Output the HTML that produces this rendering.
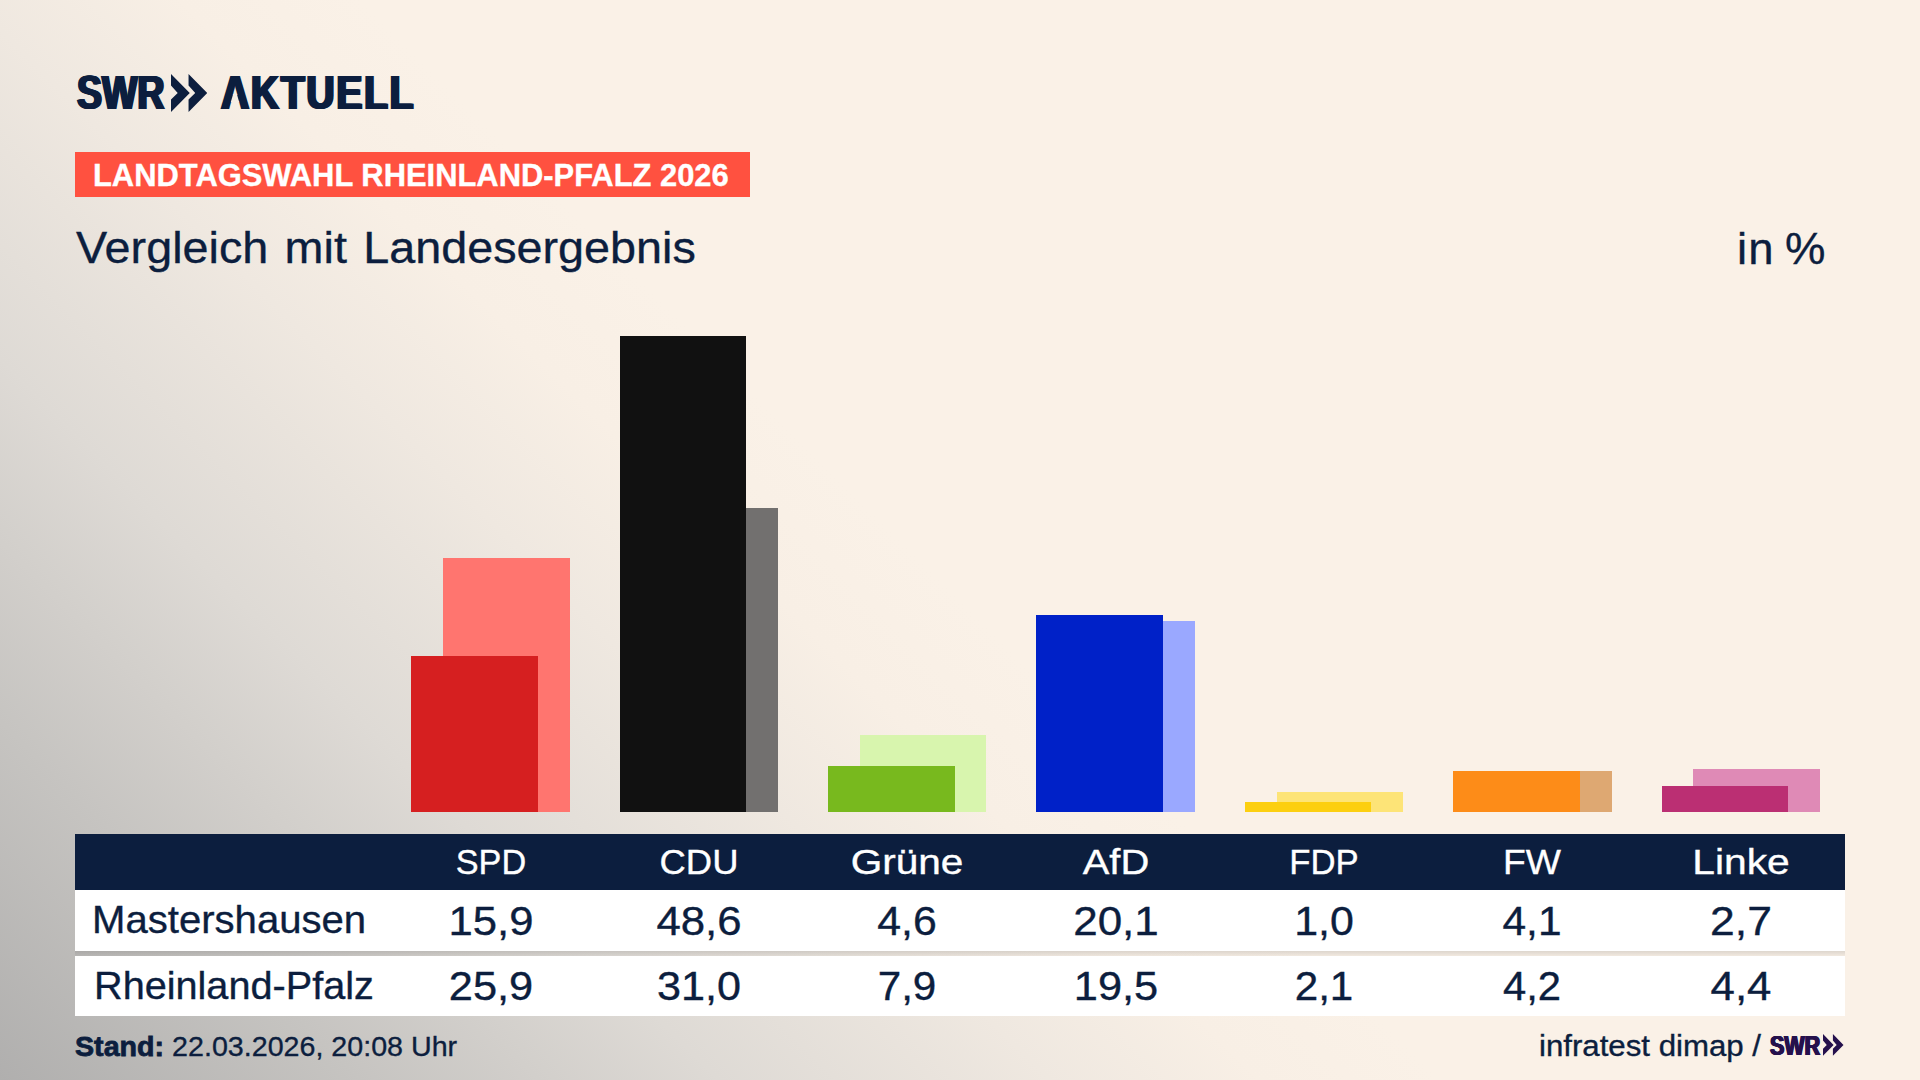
<!DOCTYPE html>
<html lang="de">
<head>
<meta charset="utf-8">
<title>SWR Aktuell – Landtagswahl Rheinland-Pfalz 2026 – Vergleich mit Landesergebnis</title>
<style>
*{margin:0;padding:0;box-sizing:border-box}
html,body{width:1920px;height:1080px;overflow:hidden}
body{position:relative;font-family:"Liberation Sans",sans-serif;color:#0c1e3e;
 --bg:linear-gradient(45deg,#b0afae 0%,#c6c4c1 12%,#dedad5 24%,#efe8e0 35%,#f8efe5 42%,#faf1e7 48%,#faf1e7 100%);background:var(--bg)}
.t{position:absolute;white-space:nowrap;line-height:1;transform-origin:0 0;display:block;font-weight:normal;-webkit-text-stroke:.35px currentColor}
.c{transform-origin:50% 0;text-align:center;width:220px}
.bar{position:absolute}
#amask{position:absolute;left:0;top:0;width:1920px;height:1080px;background:var(--bg);clip-path:polygon(233.14px 94px,236.86px 94px,239.14px 102px,230.86px 102px)}
.logo{font-weight:bold;-webkit-text-stroke:0;text-shadow:.85px 0 0 currentColor,-.85px 0 0 currentColor,1.7px 0 0 currentColor,-1.7px 0 0 currentColor}
#banner{position:absolute;left:75px;top:152px;width:675px;height:45px;background:#ff5140}
#thead{position:absolute;left:75px;top:834px;width:1770px;height:56px;background:#0c1e3e}
.row{position:absolute;left:75px;width:1770px;background:#fff}
#r1{top:890px;height:61px}
#r2{top:956px;height:60px}
#gap{position:absolute;left:75px;top:951px;width:1770px;height:5px;background:linear-gradient(rgba(80,80,80,.17),rgba(80,80,80,.05))}
</style>
</head>
<body>
<header>
 <span class="t logo" id="swr" style="left:76.5px;top:69.1px;font-size:47.8px;transform:scaleX(0.784)">SWR</span>
 <svg id="chev" style="position:absolute;left:171.2px;top:73.7px" width="36.3" height="38" viewBox="0 0 36.3 38"><path d="M0 0L18.75 19 0 38V25.5L6.7 19 0 11.5zM17.55 0L36.3 19 17.55 38V25.5L24.25 19 17.55 11.5z" fill="#0c1e3e"/></svg>
 <span class="t logo" id="akt" style="left:221px;top:69.1px;font-size:47.8px;transform:scaleX(0.815);letter-spacing:2.2px">AKTUELL</span>
 <div id="amask"></div>
 <div id="banner"></div>
 <span class="t" id="bt" style="left:93px;top:159.8px;font-size:30.5px;transform:scaleX(1.013);font-weight:bold;color:#fff">LANDTAGSWAHL RHEINLAND-PFALZ 2026</span>
 <h1 class="t" id="title" style="left:76px;top:225.6px;font-size:44.6px;transform:scaleX(1.048);word-spacing:3.2px">Vergleich mit Landesergebnis</h1>
 <span class="t" id="unit" style="left:1737px;top:226.9px;font-size:44.6px;transform:scaleX(1.02);word-spacing:-3px;letter-spacing:1px">in %</span>
</header>
<main id="chart">
 <div class="bar" style="left:443px;top:558px;width:127px;height:254px;background:#ff756f"></div>
 <div class="bar" style="left:411px;top:656px;width:127px;height:156px;background:#d61f20"></div>
 <div class="bar" style="left:652px;top:508px;width:126px;height:304px;background:#72706f"></div>
 <div class="bar" style="left:620px;top:336px;width:126px;height:476px;background:#111111"></div>
 <div class="bar" style="left:860px;top:735px;width:126px;height:77px;background:#d8f5ae"></div>
 <div class="bar" style="left:828px;top:766px;width:127px;height:46px;background:#78b91e"></div>
 <div class="bar" style="left:1068px;top:621px;width:127px;height:191px;background:#9aa8ff"></div>
 <div class="bar" style="left:1036px;top:615px;width:127px;height:197px;background:#0021c8"></div>
 <div class="bar" style="left:1277px;top:792px;width:126px;height:20px;background:#fde477"></div>
 <div class="bar" style="left:1245px;top:802px;width:126px;height:10px;background:#fccf10"></div>
 <div class="bar" style="left:1485px;top:771px;width:127px;height:41px;background:#dea872"></div>
 <div class="bar" style="left:1453px;top:771px;width:127px;height:41px;background:#fd8c18"></div>
 <div class="bar" style="left:1693px;top:769px;width:127px;height:43px;background:#df8ab6"></div>
 <div class="bar" style="left:1662px;top:786px;width:126px;height:26px;background:#bb2f73"></div>
</main>
<section id="table">
 <div id="thead"></div>
  <span class="t c" style="left:380.5px;top:844.9px;font-size:35.8px;transform:scaleX(0.957);color:#fff">SPD</span>
 <span class="t c" style="left:588.5px;top:844.9px;font-size:35.8px;transform:scaleX(1.018);color:#fff">CDU</span>
 <span class="t c" style="left:797px;top:844.9px;font-size:35.8px;transform:scaleX(1.133);color:#fff">Grüne</span>
 <span class="t c" style="left:1005.5px;top:844.9px;font-size:35.8px;transform:scaleX(1.114);color:#fff">AfD</span>
 <span class="t c" style="left:1214px;top:844.9px;font-size:35.8px;transform:scaleX(0.97);color:#fff">FDP</span>
 <span class="t c" style="left:1422px;top:844.9px;font-size:35.8px;transform:scaleX(1.04);color:#fff">FW</span>
 <span class="t c" style="left:1630.5px;top:844.9px;font-size:35.8px;transform:scaleX(1.14);color:#fff">Linke</span>
 <div class="row" id="r1"></div>
 <span class="t" id="l1" style="left:92px;top:901.4px;font-size:38.2px;transform:scaleX(1.05)">Mastershausen</span>
  <span class="t c" style="left:380.5px;top:901.5px;font-size:39.8px;transform:scaleX(1.097)">15,9</span>
 <span class="t c" style="left:588.5px;top:901.5px;font-size:39.8px;transform:scaleX(1.1)">48,6</span>
 <span class="t c" style="left:797px;top:901.5px;font-size:39.8px;transform:scaleX(1.075)">4,6</span>
 <span class="t c" style="left:1005.5px;top:901.5px;font-size:39.8px;transform:scaleX(1.105)">20,1</span>
 <span class="t c" style="left:1214px;top:901.5px;font-size:39.8px;transform:scaleX(1.078)">1,0</span>
 <span class="t c" style="left:1422px;top:901.5px;font-size:39.8px;transform:scaleX(1.066)">4,1</span>
 <span class="t c" style="left:1630.5px;top:901.5px;font-size:39.8px;transform:scaleX(1.118)">2,7</span>
 <div id="gap"></div>
 <div class="row" id="r2"></div>
 <span class="t" id="l2" style="left:93.5px;top:967.4px;font-size:38.2px;transform:scaleX(1.038)">Rheinland-Pfalz</span>
  <span class="t c" style="left:380.5px;top:967.1px;font-size:39.8px;transform:scaleX(1.09)">25,9</span>
 <span class="t c" style="left:588.5px;top:967.1px;font-size:39.8px;transform:scaleX(1.085)">31,0</span>
 <span class="t c" style="left:797px;top:967.1px;font-size:39.8px;transform:scaleX(1.06)">7,9</span>
 <span class="t c" style="left:1005.5px;top:967.1px;font-size:39.8px;transform:scaleX(1.09)">19,5</span>
 <span class="t c" style="left:1214px;top:967.1px;font-size:39.8px;transform:scaleX(1.06)">2,1</span>
 <span class="t c" style="left:1422px;top:967.1px;font-size:39.8px;transform:scaleX(1.05)">4,2</span>
 <span class="t c" style="left:1630.5px;top:967.1px;font-size:39.8px;transform:scaleX(1.1)">4,4</span>
</section>
<footer>
 <span class="t" id="stand" style="left:75px;top:1032.3px;font-size:28.5px;transform:scaleX(1.005)"><b style="-webkit-text-stroke:.8px currentColor">Stand:</b> 22.03.2026, 20:08 Uhr</span>
 <span class="t" id="src" style="left:1538.5px;top:1031.5px;font-size:29px;transform:scaleX(1.076)">infratest dimap /</span>
 <span class="t logo" id="swr2" style="left:1769.5px;top:1031.6px;font-size:27.2px;transform:scaleX(0.79);color:#25114d;text-shadow:.5px 0 0 #25114d,-.5px 0 0 #25114d,1px 0 0 #25114d,-1px 0 0 #25114d">SWR</span>
 <svg id="chev2" style="position:absolute;left:1823px;top:1034.2px" width="20.5" height="21.8" viewBox="0 0 36.3 38" preserveAspectRatio="none"><path d="M0 0L18.75 19 0 38V25.5L6.7 19 0 11.5zM17.55 0L36.3 19 17.55 38V25.5L24.25 19 17.55 11.5z" fill="#25114d"/></svg>
</footer>
</body>
</html>
